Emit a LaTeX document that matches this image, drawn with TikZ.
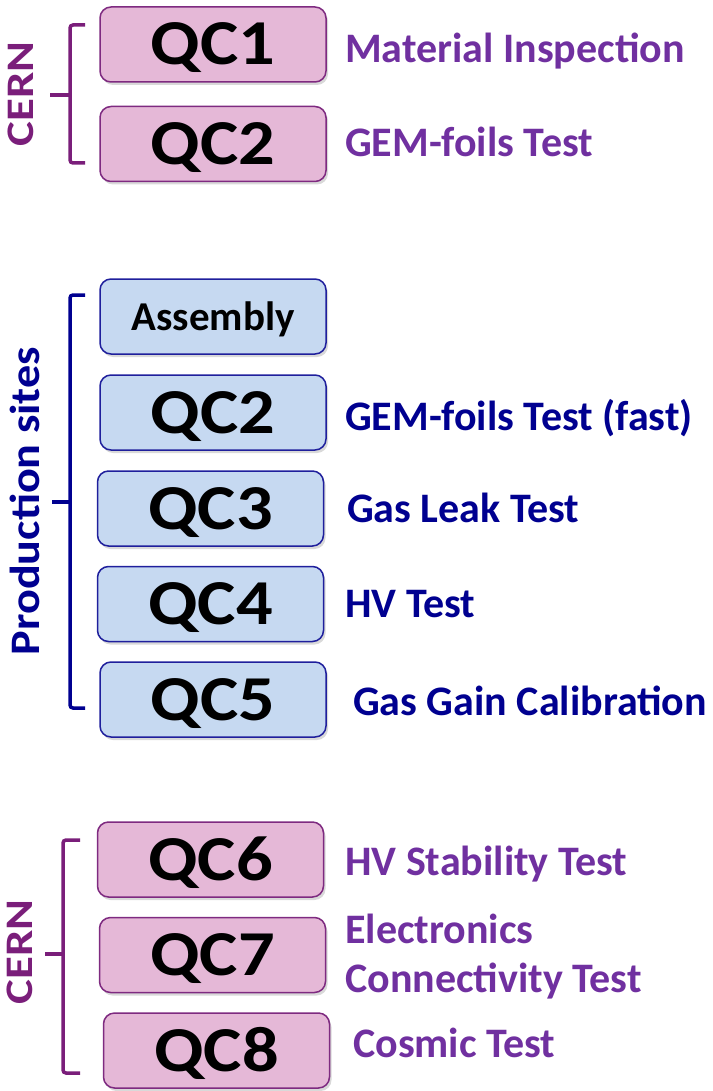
\documentclass[tikz,border=0pt]{standalone}
\usepackage{fontspec}
\setmainfont{Carlito}
\usetikzlibrary{shadows}
\definecolor{pinkfill}{HTML}{E5B8D7}
\definecolor{pinkdraw}{HTML}{7E2A80}
\definecolor{bluefill}{HTML}{C6D9F1}
\definecolor{bluedraw}{HTML}{1F1F9C}
\definecolor{purpletext}{HTML}{7030A0}
\definecolor{navytext}{HTML}{000090}
\definecolor{cernpurple}{HTML}{7A1E7A}
\newcommand\qctxt[1]{\scalebox{1.13}[1]{#1}}
\begin{document}
\begin{tikzpicture}[x=1pt,y=-1pt,
  box/.style={rounded corners=11pt, line width=1.5pt, minimum width=226pt, minimum height=75pt, inner sep=0pt,
    text height=41pt, text depth=0pt, font=\fontsize{64}{64}\selectfont\bfseries,
    drop shadow={opacity=0.3,shadow xshift=2pt,shadow yshift=-3pt}},
  pinkbox/.style={box, fill=pinkfill, draw=pinkdraw},
  bluebox/.style={box, fill=bluefill, draw=bluedraw},
  side/.style={anchor=base west, inner sep=0pt, font=\fontsize{42}{48}\selectfont\bfseries},
  purp/.style={side, text=purpletext},
  navy/.style={side, text=navytext},
  grp/.style={rotate=90, inner sep=0pt, font=\fontsize{39}{39}\selectfont\bfseries},
  brk/.style={line width=3.5pt, rounded corners=3pt}
]
\useasboundingbox (0,0) rectangle (712,1091);

% --- top CERN group
\node[pinkbox] (qc1) at (213,44.5) {\qctxt{QC1}};
\node[pinkbox] (qc2a) at (213,144) {\qctxt{QC2}};
\node[purp] (l1) at (345,63) {Material Inspection};
\node[purp] (l2) at (345,157) {GEM-foils Test};
\node[grp, text=cernpurple] (cern1) at (21,94) {\scalebox{1.2}[1]{CERN}};
\coordinate (b1t) at (85,25);
\coordinate (b1b) at (85,163);
\coordinate (b1m) at (70,95);
\draw[brk, cernpurple] (b1t) -- (70,25) -- (70,163) -- (b1b);
\draw[brk, cernpurple] (b1m) -- (50,95);

% --- production sites group
\node[bluebox, font=\fontsize{41}{41}\selectfont\bfseries, text height=28pt] (asm) at (213,316.5) {Assembly};
\node[bluebox] (qc2b) at (213,412.5) {\qctxt{QC2}};
\node[bluebox] (qc3) at (210.5,508.5) {\qctxt{QC3}};
\node[bluebox] (qc4) at (210.5,604) {\qctxt{QC4}};
\node[bluebox] (qc5) at (213,699.5) {\qctxt{QC5}};
\node[navy] (l3) at (345,430) {GEM-foils Test (fast)};
\node[navy] (l4) at (347,522) {Gas Leak Test};
\node[navy] (l5) at (345,617) {HV Test};
\node[navy] (l6) at (353,715) {Gas Gain Calibration};
\node[grp, text=navytext, font=\fontsize{42}{42}\selectfont\bfseries] (prod) at (25,501) {\scalebox{1.1}[1]{Production sites}};
\coordinate (b2t) at (85,295);
\coordinate (b2b) at (85,708);
\coordinate (b2m) at (70,502);
\draw[brk, navytext] (b2t) -- (70,295) -- (70,708) -- (b2b);
\draw[brk, navytext] (b2m) -- (52,502);

% --- bottom CERN group
\node[pinkbox] (qc6) at (210.5,859.5) {\qctxt{QC6}};
\node[pinkbox] (qc7) at (212.5,955) {\qctxt{QC7}};
\node[pinkbox] (qc8) at (216.5,1050.5) {\qctxt{QC8}};
\node[purp] (l7) at (345,875) {HV Stability Test};
\node[purp, align=left, anchor=north west, font=\fontsize{42}{49}\selectfont\bfseries] (l8) at (345,914) {Electronics\\Connectivity Test};
\node[purp] (l9) at (353,1057) {Cosmic Test};
\node[grp, text=cernpurple] (cern2) at (20,952) {\scalebox{1.2}[1]{CERN}};
\coordinate (b3t) at (80,840);
\coordinate (b3b) at (80,1073);
\coordinate (b3m) at (63,954);
\draw[brk, cernpurple] (b3t) -- (63,840) -- (63,1073) -- (b3b);
\draw[brk, cernpurple] (b3m) -- (45,954);
\end{tikzpicture}
\end{document}
